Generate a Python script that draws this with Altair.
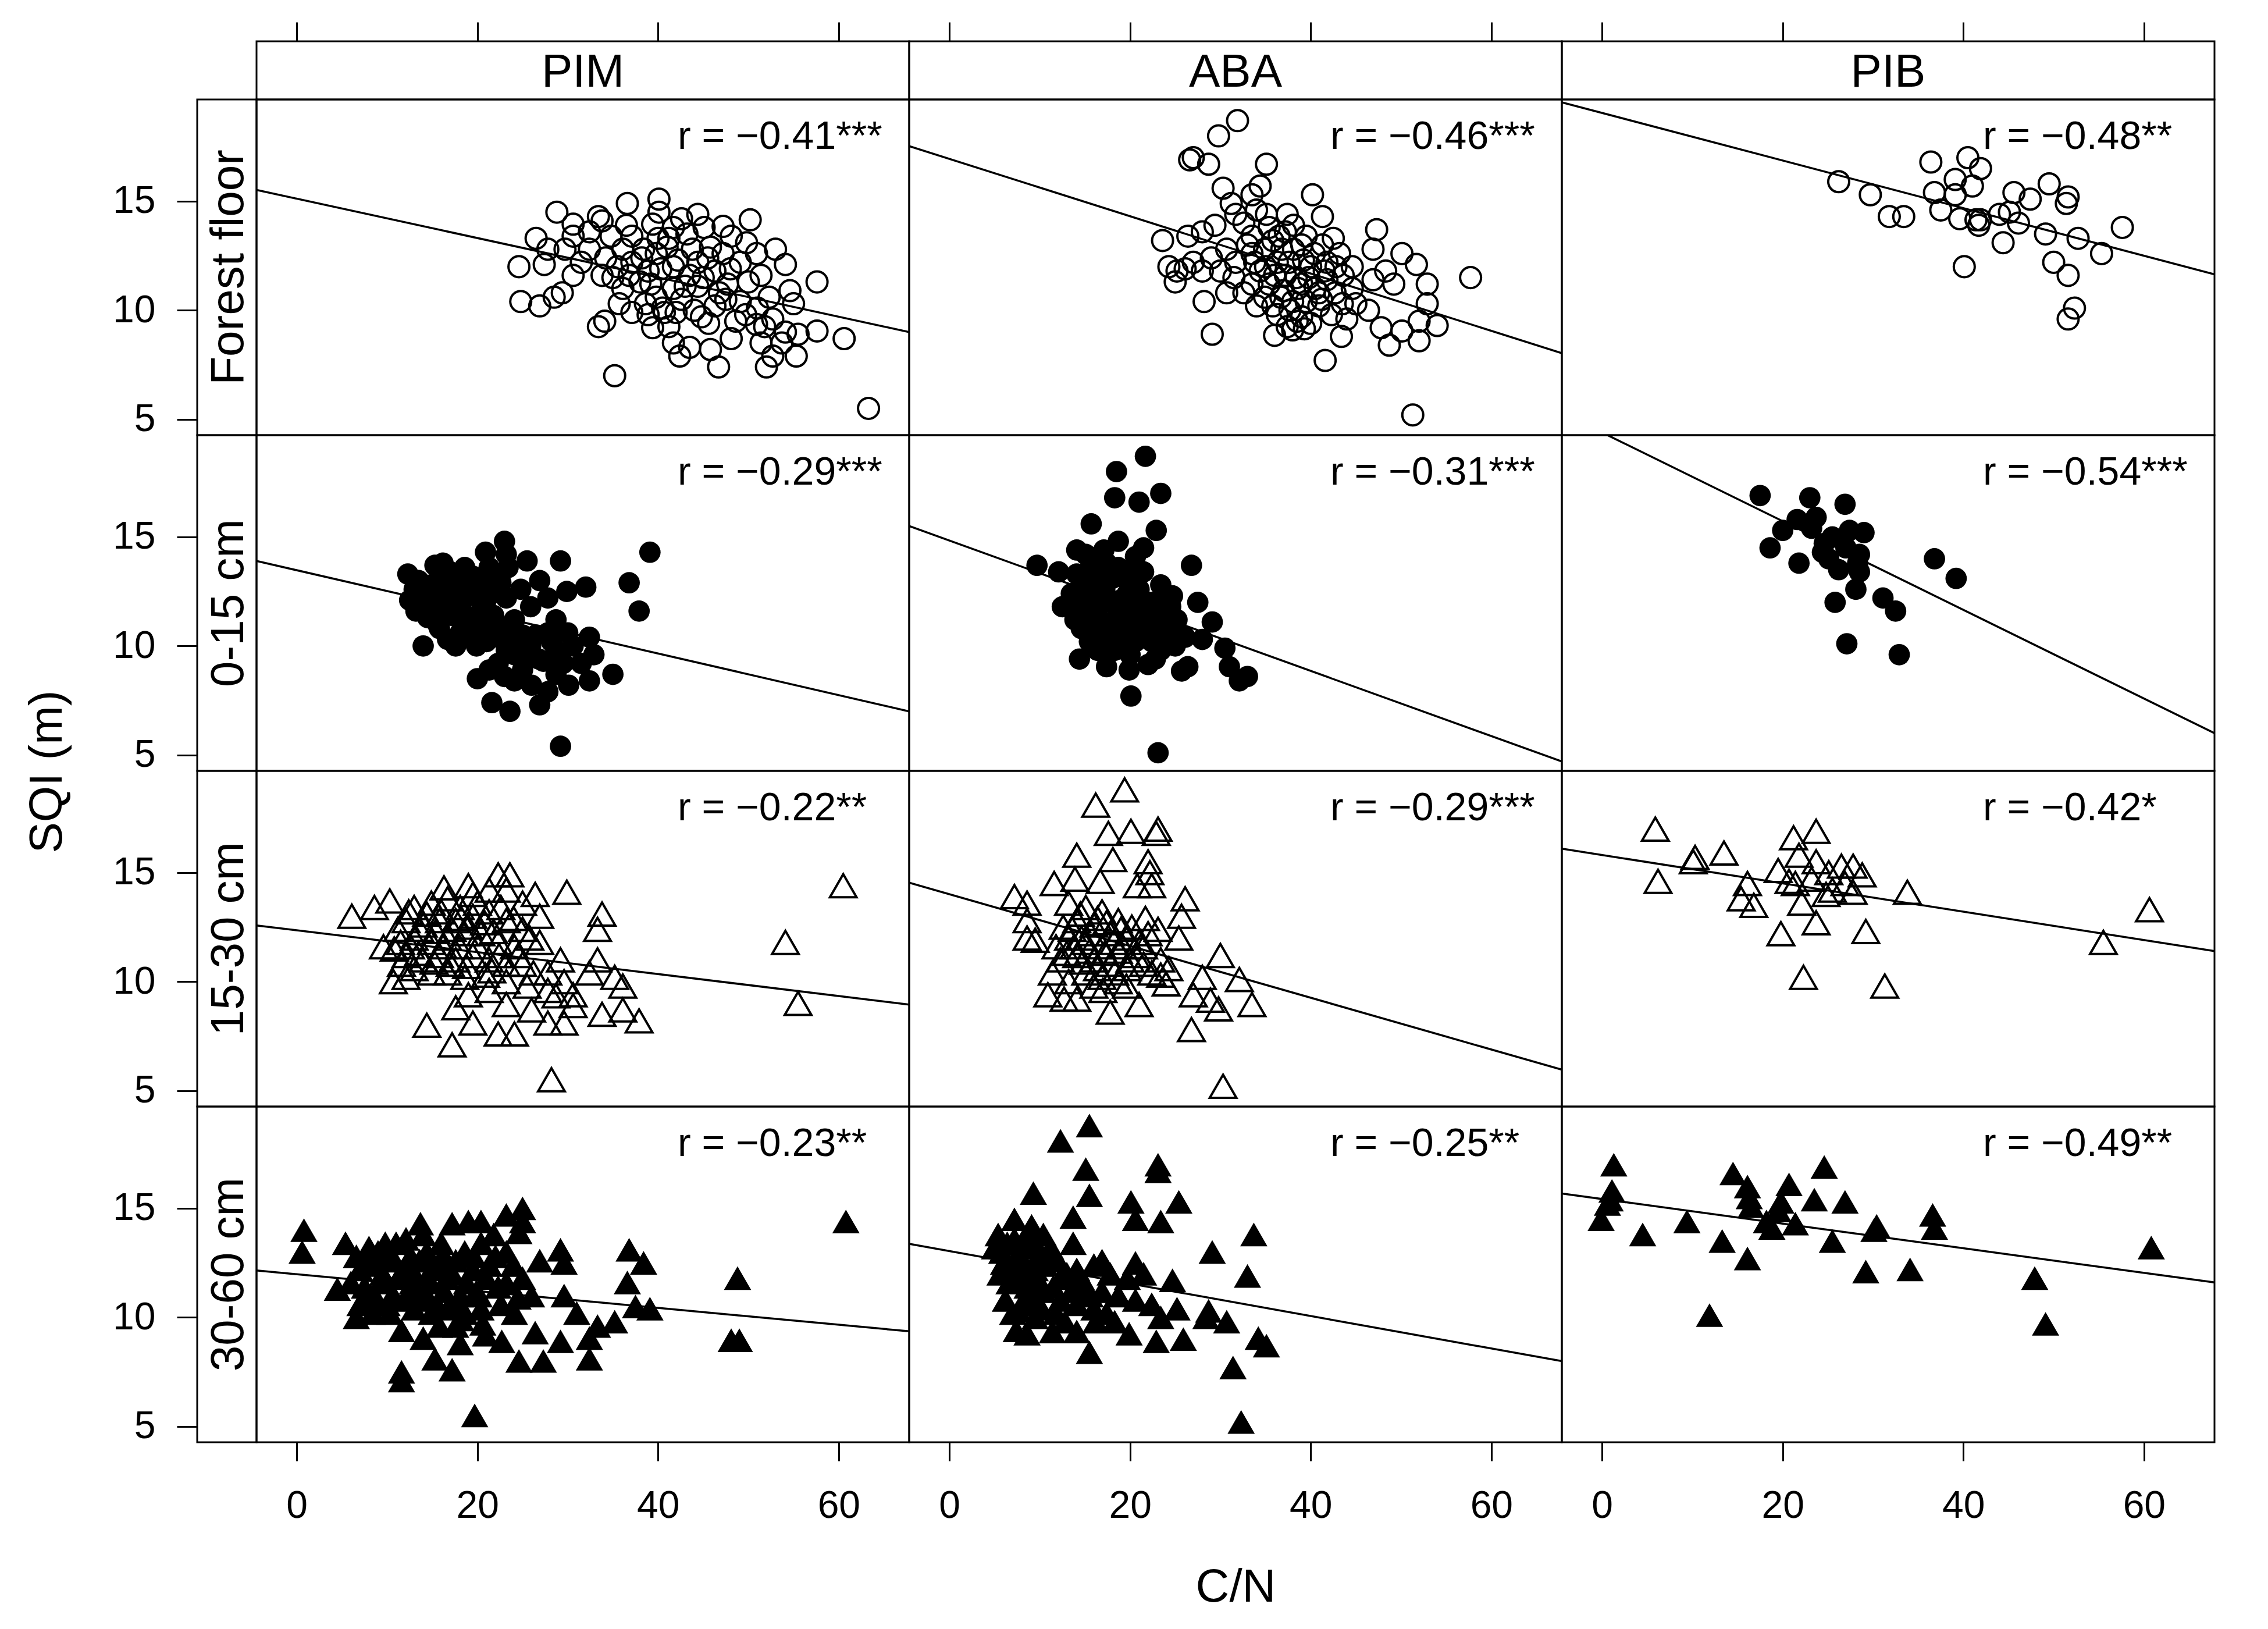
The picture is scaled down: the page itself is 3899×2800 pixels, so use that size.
import altair as alt
import pandas as pd

FONT = "Liberation Sans"
SPECIES = ["PIM", "ABA", "PIB"]
LAYERS = ["Forest floor", "0-15 cm", "15-30 cm", "30-60 cm"]
X_DOMAIN = [-4.45, 67.8]
Y_DOMAIN = [4.27, 19.67]
X_TICKS = [0, 20, 40, 60]
Y_TICKS = [5, 10, 15]

R_LABELS = [
    ["r = \u22120.41***", "r = \u22120.46***", "r = \u22120.48**"],
    ["r = \u22120.29***", "r = \u22120.31***", "r = \u22120.54***"],
    ["r = \u22120.22**", "r = \u22120.29***", "r = \u22120.42*"],
    ["r = \u22120.23**", "r = \u22120.25**", "r = \u22120.49**"],
]

# regression line values at the left (x=-4.45) and right (x=67.8) panel edges
FIT_X = [-4.45, 67.8]
FIT_Y = [
    [[15.52, 9.0], [17.53, 8.03], [19.54, 11.65]],
    [[13.9, 7.0], [15.5, 4.7], [20.7, 6.0]],
    [[12.58, 8.95], [14.54, 5.96], [16.1, 11.4]],
    [[12.15, 9.36], [13.37, 7.99], [15.68, 11.6]],
]

# (C/N, SQI) pairs
PIM_FF = [(63.3,5.5),(35.2,7.0),(60.6,8.7),(57.6,11.3),(50.2,14.15),(28.8,14.5),(36.6,14.9),(40.1,15.1),(40.1,14.5),(44.4,14.4),(33.4,14.3),(33.8,14.1),(30.6,13.95),(47.2,13.85),(26.5,13.3),(24.6,12.0),(24.8,10.4),(26.9,10.2),(28.5,10.6),(29.4,10.8),(33.4,9.25),(34.1,9.5),(39.4,9.2),(41.2,9.25),(41.7,8.5),(42.4,7.9),(43.5,8.3),(45.8,8.2),(46.7,7.4),(48.1,8.7),(45.6,9.4),(52.0,7.4),(52.7,7.9),(55.3,7.9),(55.5,8.9),(57.6,9.05),(51.4,8.5),(51.8,9.25),(54.1,9.0),(49.7,9.8),(55.0,10.3),(54.6,10.9),(54.1,12.1),(53.0,12.8),(49.8,13.1),(45.8,12.9),(48.1,13.4),(45.1,13.8),
          (36.1,12.8),(37.1,12.2),(38.9,11.8),(39.8,12.6),(41.2,13.3),(41.7,13.8),(38.0,11.3),(36.1,11.0),(35.7,10.3),(37.1,9.9),(39.8,10.6),(41.7,11.0),(43.5,11.6),(44.4,12.2),(46.3,11.8),(47.7,11.2),(49.1,12.2),(50.9,12.6),(51.4,11.6),(52.3,10.6),(49.1,10.4),(46.3,10.2),(44.0,10.0),(42.6,10.5),(32.4,12.8),(31.5,12.2),(33.8,11.6),(30.6,11.6),(29.7,12.8),(27.8,12.8),(27.4,12.1),(30.6,13.4),(32.4,13.6),(34.8,13.4),(37.1,13.4),(39.4,13.95),(42.6,14.2),(38.9,9.8),(40.7,9.9),(48.6,9.5),(52.7,9.6),(50.9,9.35),(53.7,8.5),(44.4,11.1),(41.7,12.0),(38.4,12.8),(47.2,12.6),
          (35.5,12.0),(36.8,11.6),(38.2,12.4),(39.2,11.2),(40.3,11.9),(41.0,12.9),(42.2,12.3),(43.0,11.1),(43.8,12.8),(45.0,11.5),(45.5,12.4),(46.8,10.8),(48.0,11.9),(38.6,10.3),(40.5,10.1),(42.0,9.9),(36.5,13.9),(34.2,12.4),(35.0,11.5),(47.5,10.5),(50.0,11.3),(51.0,10.1),(44.8,9.7),(43.2,13.5),(40.0,13.3)]
ABA_FF = [(31.9,18.7),(29.8,18.0),(27.0,17.0),(26.6,16.9),(28.7,16.7),(35.1,16.7),(30.3,15.6),(34.4,15.7),(33.5,15.3),(40.2,15.3),(31.2,14.9),(31.7,14.4),(34.0,14.6),(35.1,14.4),(37.4,14.4),(41.3,14.3),(38.1,13.9),(29.4,13.9),(23.6,13.2),(26.4,13.4),(28.0,13.6),(33.5,13.4),(39.5,13.4),(42.5,13.3),(47.3,13.7),(46.9,12.8),(50.1,12.6),(51.7,12.1),(25.0,11.3),(26.1,11.9),(28.0,11.8),(30.0,11.8),(31.7,12.2),(30.7,10.8),(28.2,10.4),(29.1,8.9),(57.7,11.5),(52.9,11.2),(52.9,10.3),(52.0,9.5),(54.0,9.3),(47.8,9.2),(50.1,9.05),(48.7,8.4),(52.0,8.6),(43.4,8.8),(41.6,7.7),(51.3,5.2),(36.0,8.85),(37.4,9.25),(39.3,9.15),(40.0,9.4),(42.3,9.8),(45.0,10.3),(46.4,10.0),(46.9,11.4),(49.2,11.2),(48.3,11.8),(44.6,12.0),(43.2,12.6),(41.3,13.0),
          (34.9,12.8),(36.3,12.2),(37.2,11.6),(38.6,11.0),(39.5,10.4),(40.9,10.8),(41.8,11.4),(40.0,12.0),(38.1,12.8),(35.8,13.2),(33.5,12.6),(34.4,11.8),(35.4,11.2),(36.7,10.6),(37.7,10.0),(39.0,9.7),(36.3,9.8),(34.9,10.6),(33.5,11.2),(32.6,10.8),(42.7,10.8),(43.6,11.6),(44.6,11.0),(40.9,10.2),(39.0,11.2),(40.4,12.6),(41.8,12.2),(37.2,13.6),(35.4,13.8),(32.6,14.0),(30.7,12.8),(27.0,12.2),(25.2,11.8),(24.3,12.0),
          (33.8,12.2),(35.0,12.0),(36.0,11.6),(36.8,12.8),(37.6,12.2),(38.4,11.5),(39.2,12.3),(39.8,11.5),(40.5,11.0),(41.2,10.5),(38.0,10.4),(37.0,10.9),(35.8,10.2),(34.0,10.2),(38.5,9.5),(41.5,11.8),(42.8,12.0),(33.0,13.0),(31.5,11.5),(29.0,12.4),(36.5,13.4),(39.0,13.0),(43.5,10.3),(44.0,9.6),(38.0,9.1)]
PIB_FF = [(26.2,15.9),(29.7,15.3),(31.8,14.3),(33.4,14.3),(36.4,16.8),(40.5,17.0),(41.9,16.5),(39.1,16.0),(41.0,15.7),(36.8,15.4),(39.1,15.3),(37.5,14.6),(39.6,14.2),(41.4,14.15),(41.7,13.9),(41.9,14.15),(44.0,14.4),(45.6,15.4),(47.4,15.1),(46.1,14.0),(44.4,13.1),(49.5,15.8),(51.6,15.2),(51.4,14.9),(49.1,13.5),(52.7,13.3),(55.3,12.6),(57.6,13.8),(50.0,12.2),(51.6,11.6),(40.1,12.0),(52.3,10.1),(51.6,9.6),(45.1,14.5)]

PIM_0_15 = [(39.1,14.3),(36.8,12.9),(37.9,11.6),(35.0,8.7),(29.2,5.4),(29.2,13.9),(32.0,12.7),(25.5,13.9),(23.0,14.8),(20.9,14.3),(12.3,13.3),(14.0,10.0),(21.6,7.4),(23.6,7.0),(26.9,7.3),(20.0,8.5),(32.4,8.4),(32.4,10.4),(32.9,9.6),(30.1,8.2),(29.9,12.5),(26.9,13.0),(23.4,13.6),(15.3,13.7),(18.6,13.6),
            (14.9,12.8),(16.7,13.0),(19.5,13.2),(21.3,12.8),(16.3,12.2),(18.6,12.2),(20.9,12.0),(14.9,11.6),(17.2,11.4),(19.5,11.3),(21.8,11.4),(15.8,10.8),(18.1,10.6),(20.4,10.7),(17.6,10.0),(19.9,10.0),(22.3,10.4),(23.2,12.2),(24.1,11.2),(25.0,10.5),(25.9,11.8),(27.8,12.2),(28.7,11.2),(27.8,10.6),(25.9,10.0),(24.1,9.6),(22.3,9.2),(21.3,8.9),(25.0,8.9),(27.3,9.3),(28.7,9.8),(30.6,10.0),(31.5,9.2),(28.7,8.7),(26.0,8.2),(27.8,7.9),(24.1,8.4),(23.2,9.8),(13.0,12.6),(14.0,12.0),(15.8,13.4),(17.6,12.6),(20.4,11.6),(18.6,11.0),(16.7,10.3),(21.3,13.6),(23.2,14.2),
            (13.5,13.0),(14.2,12.3),(15.2,12.1),(15.6,11.0),(16.0,12.6),(16.5,11.7),(17.0,13.4),(17.8,11.9),(18.0,12.9),(18.4,11.5),(19.0,12.6),(19.2,10.4),(20.0,12.3),(20.6,11.2),(21.0,10.2),(21.6,12.4),(22.0,11.0),(22.6,12.9),(23.6,10.8),(24.4,10.2),(24.8,12.6),(26.5,10.5),(26.8,9.4),(28.2,10.2),(29.5,9.2),(30.0,10.6),(25.5,9.4),(23.0,8.6),(22.5,13.3),(16.2,13.8),(14.5,11.3),(13.2,11.6),(12.5,12.1)]
ABA_0_15 = [(21.7,18.7),(18.5,18.0),(18.3,16.8),(21.0,16.6),(23.4,17.0),(15.7,15.6),(22.9,15.3),(18.7,14.8),(21.5,14.5),(17.1,14.4),(14.1,14.4),(9.7,13.7),(12.1,13.4),(26.8,13.7),(21.5,13.4),(23.4,12.8),(27.5,12.0),(24.7,12.3),(12.5,11.8),(13.9,11.2),(29.1,11.1),(30.5,9.9),(31.0,9.05),(33.0,8.6),(32.1,8.4),(26.4,9.05),(25.7,8.85),(28.0,10.3),(23.4,9.8),(22.0,9.15),(19.9,8.9),(17.4,9.05),(14.4,9.4),(20.1,7.7),(23.1,5.1),(15.5,10.2),
            (15.1,12.8),(16.9,13.3),(18.7,13.6),(16.0,12.2),(17.8,12.0),(19.7,12.4),(20.6,11.8),(18.7,11.4),(16.4,11.4),(17.4,10.8),(19.7,10.8),(21.5,11.0),(23.4,11.4),(25.2,11.2),(24.3,10.6),(26.1,10.4),(22.4,10.2),(20.6,10.2),(18.3,9.8),(16.4,9.8),(14.6,10.8),(14.1,13.3),(17.4,13.8),(20.6,14.1),(19.7,13.0),(22.4,12.0),(16.0,14.0),(15.1,14.2),
            (13.5,12.4),(14.4,12.0),(15.0,11.4),(15.6,13.6),(16.2,12.8),(16.8,11.9),(17.2,12.6),(18.0,13.1),(18.2,11.1),(18.9,12.1),(19.2,10.3),(19.8,11.5),(20.3,13.4),(21.0,12.6),(21.2,10.6),(22.0,11.6),(22.8,10.8),(23.8,12.0),(24.5,11.8),(17.0,10.3),(15.8,10.6),(20.0,9.6),(22.8,9.4),(25.0,10.0)]
PIB_0_15 = [(17.5,16.9),(23.0,16.8),(26.9,16.5),(21.6,15.8),(23.7,15.9),(20.0,15.3),(18.6,14.5),(21.8,13.8),(24.4,14.3),(25.5,15.0),(27.4,15.3),(29.0,15.2),(25.1,14.0),(26.2,13.5),(28.5,14.2),(28.5,13.4),(28.1,12.6),(25.8,12.0),(31.1,12.2),(32.5,11.6),(36.8,14.0),(39.2,13.1),(27.1,10.1),(32.9,9.6),(24.6,14.7),(23.2,15.4),(27.0,14.5),(28.3,13.8)]

PIM_15_30 = [(60.5,14.4),(54.1,11.8),(55.5,9.0),(28.2,5.5),(17.2,7.1),(14.4,8.0),(6.1,13.0),(8.6,13.4),(10.3,13.7),(9.6,11.6),(10.7,10.0),(12.1,10.2),(16.3,14.3),(19.0,14.4),(22.3,14.9),(23.6,14.9),(29.9,14.1),(26.4,14.0),(33.8,13.1),(33.3,12.4),(33.3,11.0),(36.1,9.8),(37.9,8.2),(33.8,8.5),(36.1,8.7),(29.2,11.0),(32.4,10.4),(35.2,10.2),(19.5,8.1),(22.3,7.6),(24.1,7.6),(27.8,8.1),(29.6,8.1),(30.6,8.9),(26.0,8.7),(17.6,8.8),(19.0,9.4),(23.2,8.95),(28.7,9.35),
             (13.0,13.4),(14.9,13.6),(16.7,13.8),(19.5,14.0),(21.3,14.2),(23.2,14.2),(25.0,13.6),(26.9,13.0),(12.1,12.8),(14.0,12.6),(15.8,12.8),(17.6,12.8),(19.5,13.0),(21.3,13.2),(23.2,12.8),(25.0,12.4),(13.0,12.0),(14.9,11.8),(16.7,12.0),(18.6,12.2),(20.4,12.2),(22.3,11.8),(24.1,11.6),(26.9,11.8),(12.1,11.2),(14.0,11.0),(15.8,11.2),(17.6,11.0),(19.5,11.2),(21.3,11.0),(23.2,10.8),(25.0,10.8),(27.8,10.4),(13.0,10.6),(14.9,10.4),(16.7,10.4),(18.6,10.2),(20.9,10.3),(23.2,10.0),(25.5,9.8),(27.8,9.6),(29.6,10.0),(30.6,9.4),(21.3,9.6),(11.2,12.4),(18.1,13.4),
             (11.5,11.8),(12.6,11.6),(13.6,12.4),(13.5,11.3),(14.4,13.1),(15.4,12.3),(15.2,10.9),(16.2,11.6),(16.0,13.2),(17.2,12.4),(17.0,10.8),(18.0,11.6),(18.2,12.9),(19.0,12.5),(18.8,10.7),(20.0,11.6),(20.0,13.6),(20.8,12.7),(21.8,12.3),(21.6,10.5),(22.6,13.4),(22.4,11.2),(24.0,12.9),(24.5,11.2),(25.8,12.0),(26.2,10.4),(12.4,13.2),(10.8,11.5),(11.6,10.8)]
ABA_15_30 = [(19.4,18.8),(16.2,18.1),(17.6,16.8),(20.1,16.9),(23.1,17.0),(22.9,16.8),(14.1,15.8),(18.1,15.6),(22.0,15.5),(22.2,15.0),(20.8,14.4),(22.4,14.4),(16.7,14.6),(11.6,14.5),(13.9,14.7),(26.1,13.8),(25.7,13.0),(21.7,12.9),(23.1,12.4),(25.4,12.0),(7.2,13.9),(8.6,13.6),(8.6,12.8),(8.6,12.0),(9.5,11.9),(30.0,11.2),(11.4,10.4),(10.9,9.4),(12.7,9.2),(14.1,9.2),(17.8,8.6),(21.0,8.95),(24.0,9.9),(27.0,9.4),(28.9,9.15),(29.8,8.75),(32.1,10.1),(33.5,8.95),(26.8,7.8),(30.3,5.2),(28.0,10.2),(23.4,10.3),
             (13.2,13.6),(15.1,13.4),(16.9,13.2),(18.7,12.8),(14.1,12.8),(16.0,12.6),(17.8,12.2),(19.7,12.0),(13.2,12.0),(15.1,11.8),(16.9,11.6),(18.7,11.4),(20.6,11.2),(14.1,11.2),(16.0,11.0),(17.8,10.8),(19.7,10.6),(21.5,10.8),(12.3,11.0),(15.1,10.4),(16.9,10.2),(18.7,10.0),(16.0,9.8),(13.2,10.0),(11.8,11.6),(21.5,11.6),(23.4,11.0),(24.3,10.6),
             (12.6,12.5),(13.6,12.4),(13.8,11.6),(14.5,13.1),(14.6,12.0),(15.6,12.2),(15.5,11.4),(16.4,12.9),(16.4,10.6),(17.2,11.3),(17.4,12.7),(18.2,11.8),(18.3,10.4),(19.2,11.6),(19.0,12.4),(20.0,11.0),(20.2,12.5),(21.0,11.8),(22.0,12.2),(22.4,10.4),(14.8,10.9),(13.0,11.3),(17.0,9.6),(19.6,9.8)]
PIB_15_30 = [(5.9,17.0),(6.2,14.6),(10.3,15.7),(10.1,15.5),(13.5,15.9),(16.1,14.5),(15.4,13.8),(16.8,13.5),(21.2,16.6),(23.7,16.9),(19.5,15.1),(21.8,15.8),(23.7,15.5),(21.4,14.5),(23.2,14.7),(25.1,15.0),(26.5,15.3),(27.8,15.3),(28.8,14.9),(25.5,14.2),(27.8,14.1),(24.8,14.0),(22.1,13.6),(23.7,12.7),(19.8,12.2),(29.2,12.3),(33.8,14.1),(22.3,10.2),(31.3,9.8),(55.5,11.8),(60.6,13.3),(20.7,14.6),(26.9,14.5)]

PIM_30_60 = [(60.8,14.4),(48.8,11.8),(48.1,8.95),(49.0,8.95),(19.7,5.5),(0.8,14.0),(0.6,13.0),(4.5,11.3),(5.4,13.4),(11.6,7.1),(11.6,7.5),(36.8,13.1),(38.4,12.5),(36.6,11.6),(37.5,10.5),(39.1,10.4),(35.2,9.8),(32.4,9.05),(32.4,8.1),(29.2,8.9),(27.3,8.0),(24.6,8.0),(22.7,8.9),(20.9,9.2),(17.2,7.6),(15.3,8.1),(14.0,9.05),(11.6,9.4),(25.0,15.0),(25.0,14.4),(23.2,14.7),(17.2,14.3),(19.0,14.4),(20.4,14.4),(13.7,14.3),(29.2,13.1),(29.6,12.5),(26.9,12.6),(24.6,13.9),(29.6,11.0),(31.0,10.2),(33.3,9.6),(26.0,11.0),(24.1,10.2),(18.1,8.8),(26.4,9.3),
             (6.6,12.8),(8.0,13.2),(9.8,13.4),(12.1,13.6),(14.0,13.8),(7.0,12.2),(8.9,12.4),(10.7,12.6),(12.6,12.8),(14.4,13.0),(16.3,12.8),(18.6,13.0),(20.4,13.4),(21.8,13.8),(23.2,13.0),(7.5,11.4),(9.3,11.6),(11.2,11.8),(13.0,12.0),(14.9,12.2),(17.2,12.0),(19.5,12.2),(21.3,12.4),(7.0,10.6),(8.9,10.8),(10.7,11.0),(12.6,11.2),(14.4,11.0),(16.3,11.2),(18.1,11.0),(19.9,11.2),(22.3,11.4),(6.6,10.0),(8.4,10.2),(10.3,10.2),(13.0,10.4),(14.9,10.2),(16.7,10.4),(18.6,10.2),(20.4,10.4),(15.8,9.6),(17.6,9.6),(23.2,11.6),(25.0,11.8),
             (6.0,11.6),(7.8,12.6),(8.2,11.0),(9.5,12.0),(10.0,10.6),(10.4,12.9),(11.8,12.2),(11.9,10.8),(12.8,11.6),(13.6,12.6),(13.8,10.8),(14.8,11.6),(15.6,12.4),(15.5,10.6),(16.6,11.8),(17.6,12.6),(17.8,10.6),(18.8,11.6),(19.6,12.8),(20.2,11.0),(21.0,11.8),(22.0,12.8),(22.6,10.6),(24.0,12.4),(24.5,10.9),(9.0,13.0),(11.0,13.4),(16.0,13.4),(18.2,9.9),(20.6,9.7)]
ABA_30_60 = [(15.5,18.8),(12.3,18.1),(15.1,16.8),(23.1,17.0),(23.1,16.7),(9.3,15.7),(15.5,15.6),(13.7,14.6),(20.1,15.3),(20.6,14.5),(23.4,14.4),(25.4,15.3),(33.7,13.8),(29.1,13.0),(33.0,11.9),(7.2,14.5),(13.7,13.4),(24.7,11.7),(20.6,12.5),(28.7,10.3),(30.7,9.8),(34.2,9.05),(35.1,8.7),(31.4,7.7),(32.3,5.2),(15.5,8.4),(22.9,8.9),(25.9,9.0),(19.9,9.25),(8.6,9.25),(7.4,9.4),(11.4,9.35),(14.1,9.35),(18.3,9.8),(23.4,10.0),(28.4,10.0),(25.2,10.4),(7.7,10.3),
             (5.4,13.8),(5.8,13.0),(5.6,12.0),(7.2,13.6),(7.7,12.8),(9.1,14.2),(9.5,13.4),(9.5,12.2),(10.4,13.8),(10.9,12.8),(8.6,11.4),(10.4,11.2),(12.3,11.8),(14.1,12.2),(16.0,12.4),(16.9,12.6),(17.8,12.0),(19.7,11.8),(21.5,12.0),(15.1,11.4),(16.9,11.2),(18.7,11.0),(12.3,10.8),(14.1,10.6),(16.0,10.4),(20.6,10.8),(22.4,10.6),(11.8,10.2),(9.5,10.0),(17.4,10.2),
             (5.0,13.2),(6.0,12.5),(6.4,13.4),(6.6,11.6),(7.0,12.2),(7.8,11.8),(8.0,13.2),(8.4,12.4),(8.8,13.8),(9.0,11.8),(9.8,12.8),(10.0,11.6),(10.6,12.4),(11.2,13.2),(11.5,11.4),(12.0,12.6),(13.0,12.0),(13.5,11.2),(14.6,11.8),(15.6,11.0),(6.2,10.8),(7.0,10.2),(8.0,10.6),(9.0,10.8),(10.2,10.4),(12.8,9.8),(16.2,9.8)]
PIB_30_60 = [(1.3,17.0),(1.1,15.8),(0.9,15.4),(0.6,15.2),(-0.1,14.5),(4.5,13.8),(9.4,14.4),(11.9,10.1),(13.3,13.5),(14.5,16.6),(16.1,16.0),(16.3,15.5),(16.5,15.1),(16.1,12.7),(18.2,14.4),(18.8,14.1),(19.8,15.3),(20.7,16.1),(21.4,14.3),(23.5,15.4),(24.6,16.9),(26.9,15.3),(25.5,13.5),(30.4,14.2),(30.1,14.0),(29.2,12.1),(34.1,12.2),(36.6,14.7),(36.8,14.1),(47.9,11.8),(49.1,9.7),(60.8,13.2),(19.5,14.9)]

DATA = [
    [PIM_FF, ABA_FF, PIB_FF],
    [PIM_0_15, ABA_0_15, PIB_0_15],
    [PIM_15_30, ABA_15_30, PIB_15_30],
    [PIM_30_60, ABA_30_60, PIB_30_60],
]
SHAPES = ["circle", "circle", "triangle-up", "triangle-up"]
FILLED = [False, True, False, True]
SIZES = [1300, 1350, 2100, 2200]

PW, PH = 1122, 577
SW, SH = 102, 100


def xscale():
    return alt.Scale(domain=X_DOMAIN, nice=False, zero=False)


def yscale():
    return alt.Scale(domain=Y_DOMAIN, nice=False, zero=False)


def panel(r, c):
    df = pd.DataFrame(DATA[r][c], columns=["cn", "sqi"])
    if r == 3:
        ax = alt.Axis(values=X_TICKS, format="d", tickSize=32, tickWidth=3, tickColor="black",
                      domain=False, grid=False, labelFontSize=66, labelFont=FONT,
                      labelColor="black", labelPadding=45, labelFlush=False,
                      titleFontSize=80, titleFont=FONT, titleFontWeight="normal",
                      titleColor="black", titleY=249, titleBaseline="middle")
        xenc = alt.X("cn:Q", scale=xscale(), axis=ax, title=("C/N" if c == 1 else None))
    else:
        xenc = alt.X("cn:Q", scale=xscale(), axis=None)
    yenc = alt.Y("sqi:Q", scale=yscale(), axis=None)
    if FILLED[r]:
        pm = alt.Chart(df).mark_point(shape=SHAPES[r], filled=True, color="black",
                                      size=SIZES[r], opacity=1, clip=True)
    else:
        pm = alt.Chart(df).mark_point(shape=SHAPES[r], filled=False, color="black",
                                      size=SIZES[r], opacity=1, strokeWidth=4, clip=True)
    pts = pm.encode(x=xenc, y=yenc)
    ldf = pd.DataFrame({"cn": FIT_X, "sqi": FIT_Y[r][c]})
    line = alt.Chart(ldf).mark_line(color="black", strokeWidth=3.5, clip=True).encode(
        x=xenc, y=yenc)
    tdf = pd.DataFrame({"t": [R_LABELS[r][c]]})
    txt = alt.Chart(tdf).mark_text(align="left", baseline="alphabetic", fontSize=68,
                                   font=FONT, color="black").encode(
        text="t:N", x=alt.value(724), y=alt.value(85))
    return alt.layer(pts, line, txt).properties(width=PW, height=PH)


def row_strip(r):
    kw = dict(values=Y_TICKS, tickSize=35, tickWidth=3, tickColor="black", domain=False,
              grid=False, labelFontSize=66, labelFont=FONT, labelColor="black", labelPadding=37)
    if r == 1:
        kw.update(titleX=-258, titleY=578, titleAngle=270, titleAlign="center",
                  titleBaseline="middle", titleFontSize=80, titleFont=FONT,
                  titleFontWeight="normal", titleColor="black")
    ax_layer = alt.Chart(pd.DataFrame({"sqi": Y_DOMAIN})).mark_point(opacity=0).encode(
        y=alt.Y("sqi:Q", scale=yscale(), axis=alt.Axis(**kw),
                title=("SQI (m)" if r == 1 else None)))
    lab = alt.Chart(pd.DataFrame({"t": [LAYERS[r]]})).mark_text(
        angle=270, fontSize=80, font=FONT, color="black", align="center", baseline="middle"
    ).encode(text="t:N", x=alt.value(SW / 2 + 4), y=alt.value(PH / 2))
    return alt.layer(ax_layer, lab).properties(width=SW, height=PH)


def col_strip(c):
    ax = alt.Axis(orient="top", values=X_TICKS, tickSize=33, tickWidth=3, tickColor="black",
                  domain=False, grid=False, labels=False)
    ax_layer = alt.Chart(pd.DataFrame({"cn": X_DOMAIN})).mark_point(opacity=0).encode(
        x=alt.X("cn:Q", scale=xscale(), axis=ax, title=None))
    lab = alt.Chart(pd.DataFrame({"t": [SPECIES[c]]})).mark_text(
        fontSize=80, font=FONT, color="black", align="center", baseline="middle"
    ).encode(text="t:N", x=alt.value(PW / 2), y=alt.value(SH / 2 + 4))
    return alt.layer(ax_layer, lab).properties(width=PW, height=SH)


spacer = alt.Chart(pd.DataFrame({"a": [0]})).mark_point(
    opacity=0, size=1
).encode(x=alt.value(-330), y=alt.value(-62)).properties(
    width=SW, height=SH, view=alt.ViewBackground(strokeOpacity=0))

cells = [spacer] + [col_strip(c) for c in range(3)]
for r in range(4):
    cells.append(row_strip(r))
    for c in range(3):
        cells.append(panel(r, c))

chart = alt.concat(*cells, columns=4, spacing=0, bounds="flush").properties(
    padding=0).configure_view(stroke="black", strokeWidth=3)

chart.save("out.html", embed_options={"renderer": "svg", "actions": False})
